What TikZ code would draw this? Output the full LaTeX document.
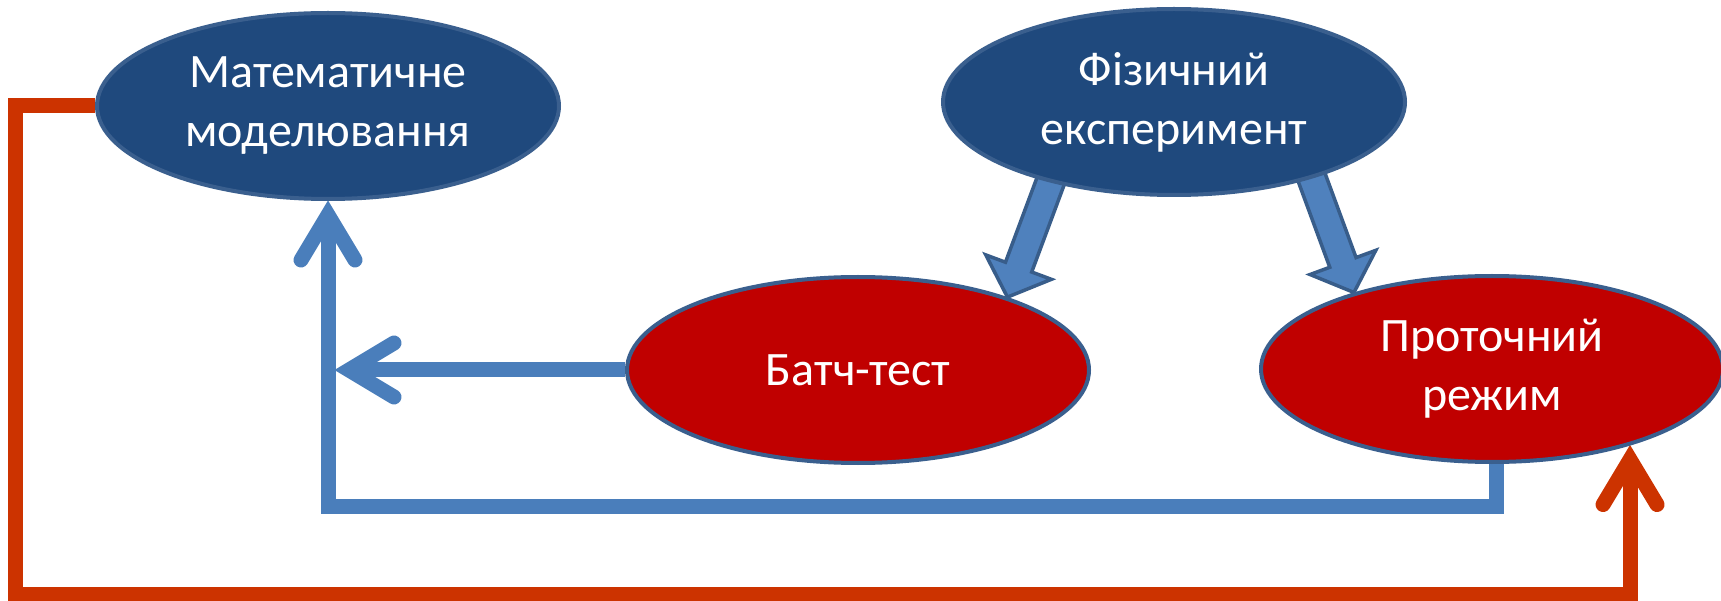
\documentclass[tikz,border=0pt]{standalone}
\usepackage{fontspec}
\setmainfont{Carlito}
\usetikzlibrary{shapes.geometric,calc}
\pgfdeclarelayer{bg}
\pgfsetlayers{bg,main}
\definecolor{ovalblue}{HTML}{1F497D}
\definecolor{ovalred}{HTML}{C00000}
\definecolor{ovaledge}{HTML}{3A5F8E}
\definecolor{fatfill}{HTML}{4F81BD}
\definecolor{fatedge}{HTML}{385D8A}
\definecolor{conblue}{HTML}{4A7EBB}
\definecolor{conred}{HTML}{CC3300}
\newcommand\fatarrow[2]{%
 \coordinate (fa-b) at ($(#2)!32pt!(#1)$);
 \draw[fatarrowstyle] ($(#1)!14pt!90:(#2)$) -- ($(fa-b)!14pt!90:(#2)$) -- ($(fa-b)!35pt!90:(#2)$) -- (#2) -- ($(fa-b)!35pt!-90:(#2)$) -- ($(fa-b)!14pt!-90:(#2)$) -- ($(#1)!14pt!-90:(#2)$) -- cycle;}
\begin{document}
\begin{tikzpicture}[x=1pt,y=-1pt,
  oval/.style={ellipse, draw=ovaledge, line width=4pt, minimum width=462pt, minimum height=186pt, inner sep=0pt, text=white, align=center, font=\fontsize{48}{59}\selectfont},
  fatarrowstyle/.style={fill=fatfill, draw=fatedge, line width=3.5pt, line join=miter},
  blueline/.style={draw=conblue, line width=15pt, line join=miter},
  redline/.style={draw=conred, line width=15pt, line join=miter},
  chevron/.style={line width=15pt, line cap=round, line join=miter}]
\useasboundingbox (0,0) rectangle (1721,601);
\node[oval, fill=ovalblue] (A) at (328,106) {Математичне\\моделювання};
\node[oval, fill=ovalblue] (B) at (1174,102) {Фізичний\\експеримент};
\node[oval, fill=ovalred] (C) at (858,370) {Батч-тест};
\node[oval, fill=ovalred] (D) at (1492,369) {Проточний\\режим};
\coordinate (blueY) at (0,506);
\coordinate (redY) at (0,594);
\coordinate (redX) at (15,0);
\begin{pgfonlayer}{bg}
 % fat arrows
 \coordinate (s1) at ($(B.213)!-20pt!(C.26)$);
 \fatarrow{s1}{C.26}
 \coordinate (s2) at ($(B.331)!-20pt!(D.151)$);
 \fatarrow{s2}{D.151}
 % blue connectors
 \coordinate (ds) at ($(D.south)+(4,0)$);
 \coordinate (va) at ($(A.south)+(0,14)$);
 \draw[blueline] (ds) -- (ds |- blueY) -- (A.south |- blueY) -- (va);
 \draw[chevron, draw=conblue] ($(va)+(-27,45)$) -- (va) -- ($(va)+(27,45)$);
 \coordinate (vl) at ($(A.south |- C.west)+(21,0)$);
 \draw[blueline] (C.west) -- (vl);
 \draw[chevron, draw=conblue] ($(vl)+(45,-27)$) -- (vl) -- ($(vl)+(45,27)$);
 % red connector
 \coordinate (rt) at (D.-29);
 \coordinate (vr) at ($(rt)+(0,14)$);
 \draw[redline] (A.west) -- (redX |- A.west) -- (redX |- redY) -- (rt |- redY) -- (vr);
 \draw[chevron, draw=conred] ($(vr)+(-27,45)$) -- (vr) -- ($(vr)+(27,45)$);
\end{pgfonlayer}
\end{tikzpicture}
\end{document}
